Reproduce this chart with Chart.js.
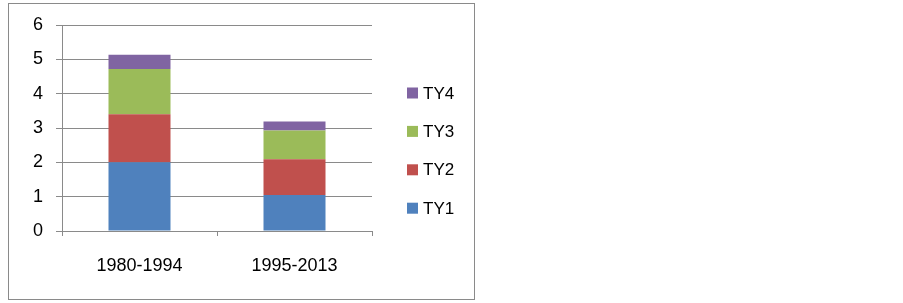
<!DOCTYPE html>
<html>
<head>
<meta charset="utf-8">
<script src="https://cdn.jsdelivr.net/npm/chart.js@4/dist/chart.umd.min.js"></script>
<style>
  html, body { margin: 0; padding: 0; background: #fff; }
  #wrap { position: relative; width: 903px; height: 303px; }
  #frame {
    position: absolute; left: 8px; top: 3px; width: 467px; height: 297px;
    border: 1px solid #8a8a8a; box-sizing: border-box; pointer-events: none;
  }
</style>
</head>
<body>
<div id="wrap">
  <canvas id="chart" width="903" height="303"></canvas>
  <div id="frame"></div>
</div>
<script>
const categories = ['1980-1994', '1995-2013'];
const ty1 = [2.0, 1.05];
const ty2 = [1.4, 1.04];
const ty3 = [1.32, 0.84];
const ty4 = [0.41, 0.26];
const yTicks = [0, 1, 2, 3, 4, 5, 6];

const FONT = '"Liberation Sans", Arial, sans-serif';

// legend on the right, drawn top-down in reverse series order like Excel does
const sideLegend = {
    id: 'sideLegend',
    afterDraw(chart) {
        const ctx = chart.ctx;
        const sets = chart.data.datasets.slice().reverse();
        ctx.save();
        ctx.font = '17px ' + FONT;
        ctx.textBaseline = 'middle';
        sets.forEach((ds, i) => {
            const y = 93 + i * 38.4;
            ctx.fillStyle = ds.backgroundColor;
            ctx.fillRect(407, y - 5.5, 11, 11);
            ctx.fillStyle = '#000';
            ctx.fillText(ds.label, 423, y + 1);
        });
        ctx.restore();
    }
};

new Chart(document.getElementById('chart'), {
    type: 'bar',
    data: {
        labels: categories,
        datasets: [
            { label: 'TY1', data: ty1, backgroundColor: '#4F81BD' },
            { label: 'TY2', data: ty2, backgroundColor: '#C0504D' },
            { label: 'TY3', data: ty3, backgroundColor: '#9BBB59' },
            { label: 'TY4', data: ty4, backgroundColor: '#8064A2' }
        ]
    },
    options: {
        responsive: false,
        animation: false,
        layout: { padding: { left: 8, top: 25, right: 531, bottom: 0 } },
        datasets: { bar: { barPercentage: 0.4, categoryPercentage: 1.0 } },
        plugins: { legend: { display: false }, tooltip: { enabled: false } },
        scales: {
            x: {
                stacked: true,
                afterFit(scale) { scale.height = 72; },
                grid: { drawOnChartArea: false, drawTicks: true, tickLength: 5, color: '#8a8a8a', offset: true },
                border: { color: '#8a8a8a', width: 1 },
                ticks: { color: '#000', font: { family: FONT, size: 18 }, padding: 19, maxRotation: 0 }
            },
            y: {
                stacked: true,
                min: 0,
                max: 6,
                afterFit(scale) { scale.width = 54; },
                afterBuildTicks(scale) { scale.ticks = yTicks.map(v => ({ value: v })); },
                grid: { color: '#8a8a8a', lineWidth: 1, tickLength: 6 },
                border: { color: '#8a8a8a', width: 1 },
                ticks: { color: '#000', font: { family: FONT, size: 18 }, padding: 13 }
            }
        }
    },
    plugins: [sideLegend]
});
</script>
</body>
</html>
